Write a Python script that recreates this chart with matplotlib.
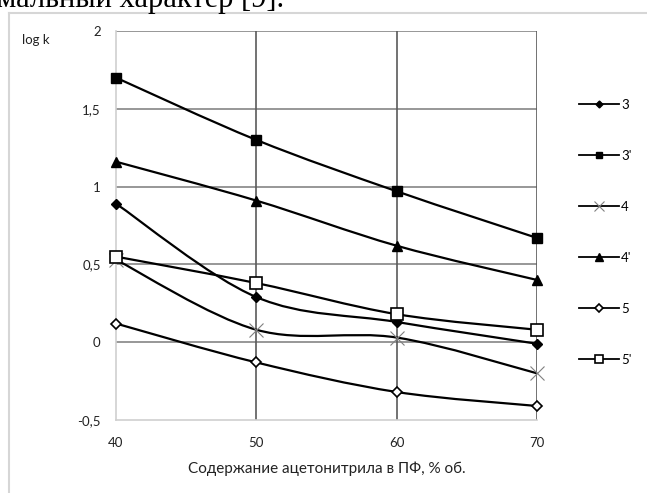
import matplotlib
matplotlib.use("Agg")
import matplotlib.pyplot as plt
from matplotlib.path import Path
from matplotlib.patches import PathPatch
from matplotlib.lines import Line2D
import numpy as np

plt.rcParams['font.family'] = ['Lato', 'DejaVu Sans']

x_vals = [40, 50, 60, 70]
s3 = [0.89, 0.29, 0.13, -0.01]
s3p = [1.70, 1.30, 0.97, 0.67]
s4 = [0.53, 0.08, 0.03, -0.20]
s4p = [1.16, 0.91, 0.62, 0.40]
s5 = [0.12, -0.13, -0.32, -0.41]
s5p = [0.55, 0.38, 0.18, 0.08]

labels = ["3", "3'", "4", "4'", "5", "5'"]
y_ticks = [-0.5, 0, 0.5, 1, 1.5, 2]
y_tick_labels = ["-0,5", "0", "0,5", "1", "1,5", "2"]

W, H = 647, 493
fig = plt.figure(figsize=(W / 100, H / 100), dpi=100)
ax = fig.add_axes([116 / W, 73 / H, (537 - 116) / W, (462 - 73) / H])


def smooth_path(xs, ys):
    # Excel-like smoothed line: cubic bezier through the points
    pts = np.column_stack([xs, ys]).astype(float)
    n = len(pts)
    verts = [pts[0]]
    codes = [Path.MOVETO]
    t = 1 / 6
    for i in range(n - 1):
        p0 = pts[max(i - 1, 0)]
        p1 = pts[i]
        p2 = pts[i + 1]
        p3 = pts[min(i + 2, n - 1)]
        verts += [p1 + (p2 - p0) * t, p2 - (p3 - p1) * t, p2]
        codes += [Path.CURVE4] * 3
    return Path(verts, codes)


styles = [
    (s3, dict(marker='D', markersize=5, markerfacecolor='black', markeredgecolor='black')),
    (s3p, dict(marker='s', markersize=7, markerfacecolor='black', markeredgecolor='black')),
    (s4, dict(marker='x', markersize=10, markeredgecolor='#808080', markeredgewidth=0.8)),
    (s4p, dict(marker='^', markersize=7.5, markerfacecolor='black', markeredgecolor='black')),
    (s5, dict(marker='D', markersize=5.5, markerfacecolor='white', markeredgecolor='black', markeredgewidth=1.2)),
    (s5p, dict(marker='s', markersize=9, markerfacecolor='white', markeredgecolor='black', markeredgewidth=1.2)),
]

handles = []
for (ys, st), lab in zip(styles, labels):
    ax.add_patch(PathPatch(smooth_path(x_vals, ys), facecolor='none',
                           edgecolor='black', lw=1.6, zorder=3, clip_on=False))
    ax.plot(x_vals, ys, linestyle='none', zorder=4, clip_on=False, **st)
    handles.append(Line2D([], [], color='black', lw=1.3, **st))

ax.set_xlim(40, 70)
ax.set_ylim(-0.5, 2)
ax.set_xticks(x_vals)
ax.set_xticklabels([str(v) for v in x_vals])
ax.set_yticks(y_ticks)
ax.set_yticklabels(y_tick_labels)
ax.tick_params(length=0, labelsize=9.5, colors='#222222')
ax.tick_params(axis='y', pad=11)
ax.tick_params(axis='x', pad=12)

for v in [1.5, 1, 0.5, 0, 2]:
    ax.axhline(v, color='#858585', lw=1.2, zorder=1)
for v in [50, 60, 70]:
    ax.axvline(v, color='#5a5a5a', lw=1.2, zorder=1)
for side in ['top', 'right']:
    ax.spines[side].set_visible(False)
ax.spines['left'].set_color('#cfcfcf')
ax.spines['bottom'].set_color('#cfcfcf')
ax.spines['left'].set_linewidth(1.2)
ax.spines['bottom'].set_linewidth(1.2)

ax.set_xlabel("Содержание ацетонитрила в ПФ, % об.", fontsize=11, labelpad=9, color='#222222')
fig.text(22 / W, 1 - 40 / H, "log k", fontsize=9.5, va='center', color='#222222')

fig.legend(handles=handles, labels=labels, loc='upper left',
           bbox_to_anchor=(579 / W, 1 - 99 / H), frameon=False, fontsize=9.5,
           handlelength=3.0, handletextpad=0.2, labelspacing=2.95,
           borderaxespad=0, borderpad=0, markerscale=0.7)

# chart frame (partly outside the picture)
fig.add_artist(Line2D([8.5 / W, 8.5 / W], [0, 1 - 12.5 / H], color='#d6d6d6', lw=1.5,
                      transform=fig.transFigure))
fig.add_artist(Line2D([8.5 / W, 1], [1 - 12.5 / H, 1 - 12.5 / H], color='#d6d6d6', lw=1.5,
                      transform=fig.transFigure))

# tail of the paragraph above the chart, cut by the top edge as in the page scan
fig.text(-3 / W, 1 - 7 / H, "мальный характер [9].", family='Liberation Serif',
         fontsize=22, va='baseline', ha='left')

fig.savefig("out.png", dpi=100)
